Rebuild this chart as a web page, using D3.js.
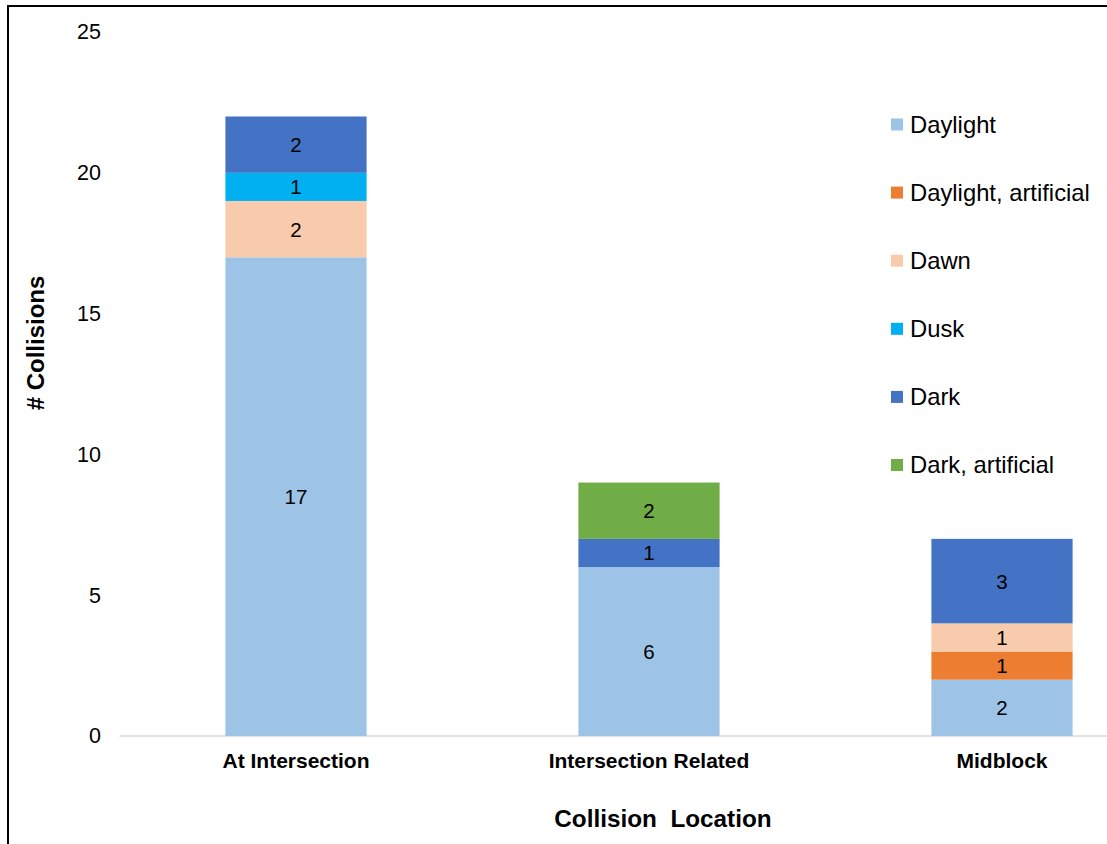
<!DOCTYPE html>
<html>
<head>
<meta charset="utf-8">
<script src="https://cdn.jsdelivr.net/npm/d3@7"></script>
<style>
  html, body { margin: 0; padding: 0; background: #fff; }
  svg { display: block; font-family: Arial, "Liberation Sans", sans-serif; }
</style>
</head>
<body>
<svg id="chart" width="1107" height="844"></svg>
<script>
// Collisions by location, split by lighting condition
const categories = ["At Intersection", "Intersection Related", "Midblock"];
const seriesNames = ["Daylight", "Daylight, artificial", "Dawn", "Dusk", "Dark", "Dark, artificial"];
const daylight = [17, 6, 2];
const daylightArtificial = [0, 0, 1];
const dawn = [2, 0, 1];
const dusk = [1, 0, 0];
const dark = [2, 1, 3];
const darkArtificial = [0, 2, 0];
const yTicks = [0, 5, 10, 15, 20, 25];
const colors = ["#9DC3E6", "#ED7D31", "#F8CBAD", "#00B0F0", "#4472C4", "#70AD47"];

const seriesValues = [daylight, daylightArtificial, dawn, dusk, dark, darkArtificial];
const rows = categories.map((c, i) => {
  const r = { category: c };
  seriesNames.forEach((s, j) => { r[s] = seriesValues[j][i]; });
  return r;
});

const svg = d3.select("#chart");
const FONT = "Arial, 'Liberation Sans', sans-serif";

// outer frame (extends past the right and bottom edges)
svg.append("rect")
  .attr("x", 8).attr("y", 6)
  .attr("width", 1120).attr("height", 860)
  .attr("fill", "none").attr("stroke", "#000").attr("stroke-width", 2);

const y = d3.scaleLinear().domain([0, 25]).range([736, 32]);
const x = d3.scaleBand().domain(categories).range([119.5, 1178.5]).paddingInner(0.6).paddingOuter(0.3);

// baseline
svg.append("line")
  .attr("x1", 119.5).attr("x2", 1107)
  .attr("y1", y(0)).attr("y2", y(0))
  .attr("stroke", "#D9D9D9").attr("stroke-width", 1.5);

// y tick labels
const yAxis = d3.axisLeft(y).tickValues(yTicks).tickSize(0).tickPadding(0);
const gy = svg.append("g").attr("transform", "translate(101,0)").call(yAxis);
gy.select(".domain").remove();
gy.selectAll("text")
  .attr("font-size", 21.5).attr("fill", "#000").attr("font-family", FONT);

// x category labels
const xAxis = d3.axisBottom(x).tickSize(0).tickPadding(0);
const gx = svg.append("g").attr("transform", "translate(0,768)").call(xAxis);
gx.select(".domain").remove();
gx.selectAll("text")
  .attr("dy", 0)
  .attr("font-size", 21).attr("font-weight", "bold").attr("fill", "#000")
  .attr("font-family", FONT);

// stacked bars
const stack = d3.stack().keys(seriesNames);
const layers = stack(rows);
const color = d3.scaleOrdinal().domain(seriesNames).range(colors);

const layerG = svg.selectAll("g.layer").data(layers).enter().append("g")
  .attr("class", "layer").attr("fill", d => color(d.key));

layerG.selectAll("rect")
  .data(d => d.filter(s => s[1] - s[0] > 0))
  .enter().append("rect")
  .attr("x", d => x(d.data.category))
  .attr("width", x.bandwidth())
  .attr("y", d => y(d[1]))
  .attr("height", d => y(d[0]) - y(d[1]));

layerG.selectAll("text")
  .data(d => d.filter(s => s[1] - s[0] > 0).map(s => ({ s, v: s[1] - s[0] })))
  .enter().append("text")
  .attr("x", d => x(d.s.data.category) + x.bandwidth() / 2)
  .attr("y", d => y((d.s[0] + d.s[1]) / 2))
  .attr("dy", "0.36em")
  .attr("text-anchor", "middle")
  .attr("font-size", 20.5).attr("fill", "#000")
  .text(d => d.v);

// axis titles
svg.append("text")
  .attr("transform", `translate(44,343) rotate(-90)`)
  .attr("text-anchor", "middle")
  .attr("font-size", 24).attr("font-weight", "bold")
  .text("# Collisions");

svg.append("text")
  .attr("x", 663).attr("y", 827)
  .attr("text-anchor", "middle")
  .attr("font-size", 24.3).attr("font-weight", "bold")
  .style("white-space", "pre")
  .text("Collision  Location");

// legend
const legend = svg.append("g").attr("transform", "translate(891,124.5)");
const item = legend.selectAll("g").data(seriesNames).enter().append("g")
  .attr("transform", (d, i) => `translate(0,${i * 68.1})`);
item.append("rect")
  .attr("x", 0).attr("y", -6).attr("width", 12).attr("height", 12)
  .attr("fill", d => color(d));
item.append("text")
  .attr("x", 19).attr("y", 0).attr("dy", "0.35em")
  .attr("font-size", 23.8).attr("fill", "#000")
  .text(d => d);
</script>
</body>
</html>
